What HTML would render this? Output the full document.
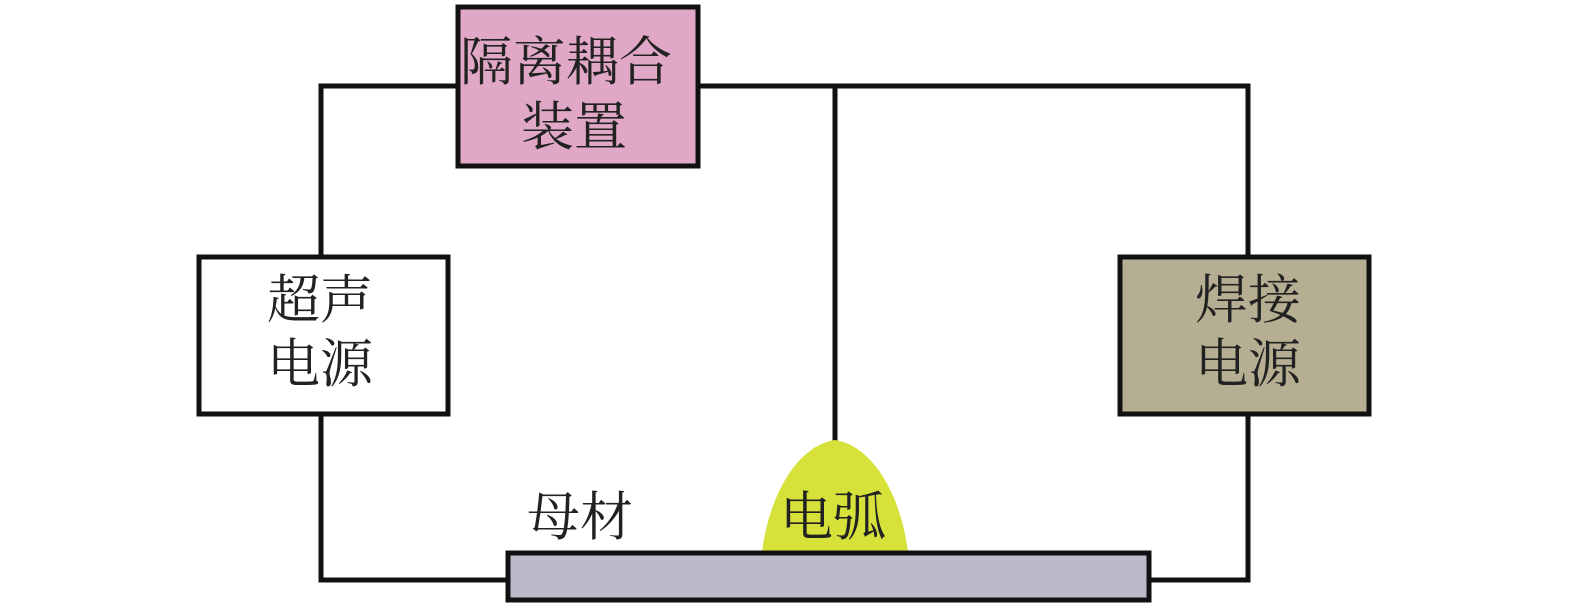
<!DOCTYPE html>
<html><head><meta charset="utf-8"><style>
body{margin:0;background:#fff;width:1575px;height:610px;overflow:hidden}
</style></head><body>
<svg width="1575" height="610" xmlns="http://www.w3.org/2000/svg" font-family="'Liberation Serif','Noto Serif CJK SC',serif" font-size="53" fill="#222">
<g stroke="#111" stroke-width="5" fill="none">
<polyline points="321,255 321,86 456,86"/>
<polyline points="699,86 1248,86 1248,255"/>
<line x1="835" y1="86" x2="835" y2="442"/>
<polyline points="321,415 321,580 506,580"/>
<polyline points="1248,415 1248,580 1150,580"/>
</g>
<path d="M762,552 C770,490 800,445 835,440 C870,445 900,490 908,552 Z" fill="#d6e23a"/>
<rect x="508" y="553" width="641" height="47" fill="#babacb" stroke="#111" stroke-width="5"/>
<rect x="458" y="7" width="240" height="159" fill="#e0a8c6" stroke="#111" stroke-width="5"/>
<rect x="199" y="257" width="249" height="157" fill="#fff" stroke="#111" stroke-width="5"/>
<rect x="1120" y="257" width="249" height="157" fill="#b5ae92" stroke="#111" stroke-width="5"/>
<g text-anchor="middle">
<text x="566" y="80">隔离耦合</text>
<text x="574" y="145">装置</text>
<text x="320" y="318">超声</text>
<text x="320" y="382">电源</text>
<text x="1248" y="318">焊接</text>
<text x="1248" y="382">电源</text>
<text x="580" y="535">母材</text>
<text x="833" y="535">电弧</text>
</g>
</svg>
</body></html>
